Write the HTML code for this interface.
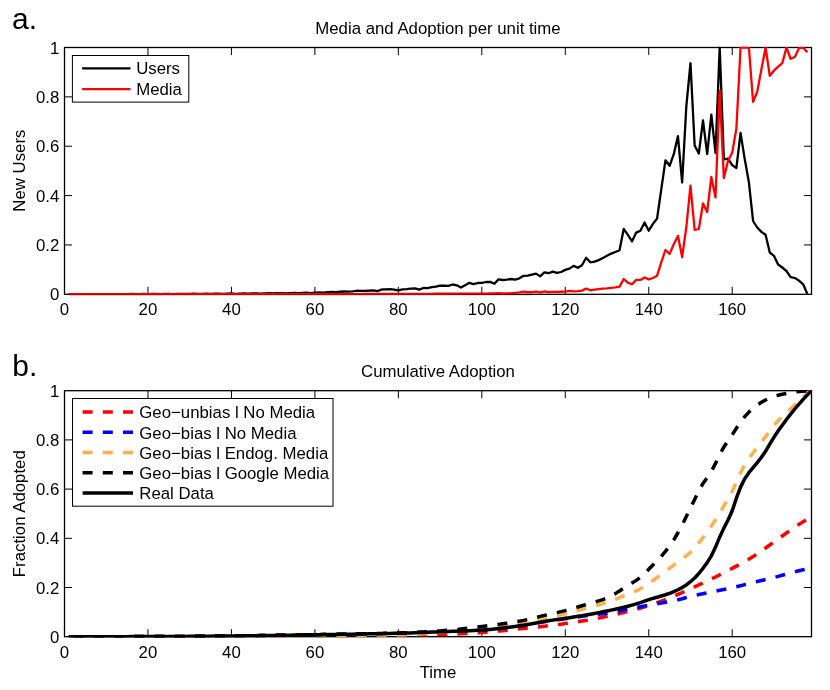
<!DOCTYPE html>
<html><head><meta charset="utf-8"><title>Media and Adoption</title>
<style>html,body{margin:0;padding:0;background:#fff}svg{display:block;will-change:transform}text{font-family:"Liberation Sans",sans-serif;font-size:16.8px;fill:#000}</style></head>
<body>
<svg width="830" height="690" viewBox="0 0 830 690">
<rect width="830" height="690" fill="#fff"/>
<defs><clipPath id="c1"><rect x="64.5" y="46.8" width="747.7" height="248.4"/></clipPath><clipPath id="c2"><rect x="64.5" y="390.0" width="747.7" height="247.60000000000005"/></clipPath></defs>
<text x="12" y="29" style="font-size:30px">a.</text>
<text x="438" y="34" text-anchor="middle">Media and Adoption per unit time</text>
<text transform="translate(25.2,170.6) rotate(-90)" text-anchor="middle">New Users</text>
<rect x="64.5" y="47.5" width="747.0" height="246.8" fill="none" stroke="#000" stroke-width="1.3"/>
<text x="64.50" y="315.20" text-anchor="middle">0</text>
<path d="M147.96,294.3v-7.5M147.96,47.5v7.5" stroke="#000" stroke-width="1"/>
<text x="147.96" y="315.20" text-anchor="middle">20</text>
<path d="M231.43,294.3v-7.5M231.43,47.5v7.5" stroke="#000" stroke-width="1"/>
<text x="231.43" y="315.20" text-anchor="middle">40</text>
<path d="M314.89,294.3v-7.5M314.89,47.5v7.5" stroke="#000" stroke-width="1"/>
<text x="314.89" y="315.20" text-anchor="middle">60</text>
<path d="M398.35,294.3v-7.5M398.35,47.5v7.5" stroke="#000" stroke-width="1"/>
<text x="398.35" y="315.20" text-anchor="middle">80</text>
<path d="M481.82,294.3v-7.5M481.82,47.5v7.5" stroke="#000" stroke-width="1"/>
<text x="481.82" y="315.20" text-anchor="middle">100</text>
<path d="M565.28,294.3v-7.5M565.28,47.5v7.5" stroke="#000" stroke-width="1"/>
<text x="565.28" y="315.20" text-anchor="middle">120</text>
<path d="M648.75,294.3v-7.5M648.75,47.5v7.5" stroke="#000" stroke-width="1"/>
<text x="648.75" y="315.20" text-anchor="middle">140</text>
<path d="M732.21,294.3v-7.5M732.21,47.5v7.5" stroke="#000" stroke-width="1"/>
<text x="732.21" y="315.20" text-anchor="middle">160</text>
<text x="59.3" y="300.30" text-anchor="end">0</text>
<path d="M64.5,244.94h7.5M811.5,244.94h-7.5" stroke="#000" stroke-width="1"/>
<text x="59.3" y="250.94" text-anchor="end">0.2</text>
<path d="M64.5,195.58h7.5M811.5,195.58h-7.5" stroke="#000" stroke-width="1"/>
<text x="59.3" y="201.58" text-anchor="end">0.4</text>
<path d="M64.5,146.22h7.5M811.5,146.22h-7.5" stroke="#000" stroke-width="1"/>
<text x="59.3" y="152.22" text-anchor="end">0.6</text>
<path d="M64.5,96.86h7.5M811.5,96.86h-7.5" stroke="#000" stroke-width="1"/>
<text x="59.3" y="102.86" text-anchor="end">0.8</text>
<text x="59.3" y="53.50" text-anchor="end">1</text>
<g clip-path="url(#c1)" fill="none" stroke-linejoin="round" stroke-linecap="butt">
<polyline points="68.67,294.17 72.85,294.17 77.02,294.16 81.19,294.14 85.37,294.17 89.54,294.14 93.71,294.11 97.89,294.16 102.06,294.12 106.23,294.08 110.41,294.15 114.58,294.09 118.75,294.04 122.92,294.13 127.10,294.06 131.27,294.00 135.44,294.12 139.62,294.03 143.79,293.96 147.96,294.10 152.14,293.99 156.31,293.91 160.48,294.07 164.66,293.95 168.83,293.86 173.00,294.04 177.18,293.90 181.35,293.80 185.52,294.00 189.70,293.84 193.87,293.74 198.04,293.96 202.22,293.78 206.39,293.67 210.56,293.91 214.73,293.71 218.91,293.60 223.08,293.85 227.25,293.63 231.43,293.51 235.60,293.79 239.77,293.54 243.95,293.41 248.12,293.71 252.29,293.44 256.47,293.31 260.64,293.62 264.81,293.32 268.99,293.18 273.16,293.51 277.33,293.19 281.51,293.05 285.68,293.38 289.85,293.04 294.03,292.91 298.20,293.22 302.37,292.88 306.54,292.75 310.72,293.05 314.89,292.70 319.06,292.47 323.24,292.67 327.41,292.22 331.58,291.99 335.76,292.19 339.93,291.74 344.10,291.52 348.28,291.72 352.45,291.39 356.62,290.77 360.80,290.92 364.97,290.92 369.14,290.61 373.32,290.30 377.49,291.08 381.66,289.51 385.84,289.36 390.01,289.20 394.18,289.67 398.35,290.45 402.53,289.36 406.70,289.04 410.87,288.57 415.05,288.42 419.22,289.67 423.39,287.95 427.57,288.10 431.74,287.17 435.91,286.70 440.09,285.60 444.26,285.76 448.43,285.91 452.61,284.50 456.78,285.29 460.95,287.48 465.13,285.13 469.30,282.78 473.47,284.06 477.65,283.00 481.82,282.90 485.99,282.00 490.16,281.90 494.34,283.80 498.51,279.40 502.68,280.00 506.86,279.70 511.03,279.00 515.20,279.60 519.38,278.30 523.55,275.80 527.72,275.70 531.90,274.60 536.07,273.60 540.24,276.40 544.42,272.30 548.59,273.20 552.76,271.60 556.94,272.90 561.11,272.00 565.28,269.90 569.46,268.60 573.63,265.90 577.80,267.80 581.97,265.20 586.15,257.70 590.32,262.30 594.49,261.60 598.67,260.10 602.84,258.00 607.01,255.80 611.19,253.60 615.36,252.00 619.53,250.30 623.71,229.00 627.88,234.80 632.05,241.30 636.23,232.60 640.40,230.70 644.57,222.50 648.75,230.70 652.92,223.90 657.09,218.50 661.27,189.30 665.44,160.30 669.61,165.80 673.78,154.20 677.96,136.10 682.13,182.50 686.30,106.70 690.48,63.20 694.65,145.50 698.82,153.50 703.00,120.40 707.17,154.20 711.34,114.60 715.52,152.80 719.69,47.20 723.86,159.30 728.04,158.60 732.21,165.10 736.38,168.00 740.56,132.90 744.73,159.10 748.90,182.30 753.08,221.00 757.25,227.50 761.42,231.90 765.59,234.80 769.77,252.50 773.94,255.80 778.11,264.50 782.29,267.50 786.46,271.00 790.63,277.10 794.81,278.00 798.98,280.60 803.15,284.30 807.33,293.90" stroke="#000" stroke-width="2.3"/>
<polyline points="68.67,294.20 72.85,294.20 77.02,294.20 81.19,294.20 85.37,294.20 89.54,294.20 93.71,294.20 97.89,294.20 102.06,294.20 106.23,294.20 110.41,294.20 114.58,294.20 118.75,294.20 122.92,294.20 127.10,294.20 131.27,294.20 135.44,294.20 139.62,294.20 143.79,294.20 147.96,294.20 152.14,294.20 156.31,294.20 160.48,294.20 164.66,294.20 168.83,294.20 173.00,294.20 177.18,294.20 181.35,294.20 185.52,294.20 189.70,294.20 193.87,294.20 198.04,294.20 202.22,294.20 206.39,294.20 210.56,294.20 214.73,294.20 218.91,294.20 223.08,294.20 227.25,294.20 231.43,294.20 235.60,294.20 239.77,294.20 243.95,294.20 248.12,294.20 252.29,294.20 256.47,294.20 260.64,294.20 264.81,294.20 268.99,294.20 273.16,294.20 277.33,294.20 281.51,294.20 285.68,294.20 289.85,294.20 294.03,294.20 298.20,294.20 302.37,294.20 306.54,294.20 310.72,294.20 314.89,294.20 319.06,294.19 323.24,294.17 327.41,294.15 331.58,294.14 335.76,294.12 339.93,294.11 344.10,294.09 348.28,294.08 352.45,294.06 356.62,294.05 360.80,294.03 364.97,294.02 369.14,294.00 373.32,293.99 377.49,293.97 381.66,293.96 385.84,293.94 390.01,293.93 394.18,293.91 398.35,293.90 402.53,293.88 406.70,293.87 410.87,293.85 415.05,293.84 419.22,293.82 423.39,293.81 427.57,293.80 431.74,293.78 435.91,293.76 440.09,293.75 444.26,293.74 448.43,293.72 452.61,293.70 456.78,293.69 460.95,293.68 465.13,293.66 469.30,293.64 473.47,293.63 477.65,293.62 481.82,293.62 485.99,293.62 490.16,293.48 494.34,293.48 498.51,293.04 502.68,293.48 506.86,293.33 511.03,293.19 515.20,292.90 519.38,292.46 523.55,291.74 527.72,292.17 531.90,292.17 536.07,291.59 540.24,292.46 544.42,291.30 548.59,292.03 552.76,291.88 556.94,291.88 561.11,291.74 565.28,291.59 569.46,290.87 573.63,291.45 577.80,291.16 581.97,290.60 586.15,288.60 590.32,290.30 594.49,289.70 598.67,289.10 602.84,288.70 607.01,288.30 611.19,287.80 615.36,287.40 619.53,286.70 623.71,279.00 627.88,282.60 632.05,284.30 636.23,279.90 640.40,279.90 644.57,277.50 648.75,279.40 652.92,278.00 657.09,275.70 661.27,262.30 665.44,250.00 669.61,253.90 673.78,244.20 677.96,235.90 682.13,257.00 686.30,227.50 690.48,185.70 694.65,230.00 698.82,229.00 703.00,203.50 707.17,212.00 711.34,177.00 715.52,197.40 719.69,90.70 723.86,178.10 728.04,160.70 732.21,152.80 736.38,128.60 740.56,47.50 744.73,47.50 748.90,47.50 753.08,101.90 757.25,91.70 761.42,69.30 765.59,47.50 769.77,75.80 773.94,70.70 778.11,66.70 782.29,63.20 786.46,47.50 790.63,58.80 794.81,57.00 798.98,48.20 803.15,47.50 807.33,52.20" stroke="#f00" stroke-width="2.3"/>
</g>
<path d="M68.67,294.65000000000003H531.90" stroke="#000" stroke-width="1.6" opacity="0.22"/>
<rect x="72.4" y="55.5" width="116.4" height="46.6" fill="#fff" stroke="#000" stroke-width="1"/>
<path d="M82.1,68.4h48.4" stroke="#000" stroke-width="2.2"/><path d="M82.1,89.2h48.4" stroke="#f00" stroke-width="2.2"/>
<text x="136.2" y="74">Users</text><text x="136.2" y="95">Media</text>
<text x="12.3" y="375.6" style="font-size:30px">b.</text>
<text x="438" y="377" text-anchor="middle">Cumulative Adoption</text>
<text transform="translate(25.2,513.7) rotate(-90)" text-anchor="middle">Fraction Adopted</text>
<text x="438" y="677.6" text-anchor="middle">Time</text>
<rect x="64.5" y="390.7" width="747.0" height="246.00000000000006" fill="none" stroke="#000" stroke-width="1.3"/>
<text x="64.50" y="657.60" text-anchor="middle">0</text>
<path d="M147.96,636.7v-7.5M147.96,390.7v7.5" stroke="#000" stroke-width="1"/>
<text x="147.96" y="657.60" text-anchor="middle">20</text>
<path d="M231.43,636.7v-7.5M231.43,390.7v7.5" stroke="#000" stroke-width="1"/>
<text x="231.43" y="657.60" text-anchor="middle">40</text>
<path d="M314.89,636.7v-7.5M314.89,390.7v7.5" stroke="#000" stroke-width="1"/>
<text x="314.89" y="657.60" text-anchor="middle">60</text>
<path d="M398.35,636.7v-7.5M398.35,390.7v7.5" stroke="#000" stroke-width="1"/>
<text x="398.35" y="657.60" text-anchor="middle">80</text>
<path d="M481.82,636.7v-7.5M481.82,390.7v7.5" stroke="#000" stroke-width="1"/>
<text x="481.82" y="657.60" text-anchor="middle">100</text>
<path d="M565.28,636.7v-7.5M565.28,390.7v7.5" stroke="#000" stroke-width="1"/>
<text x="565.28" y="657.60" text-anchor="middle">120</text>
<path d="M648.75,636.7v-7.5M648.75,390.7v7.5" stroke="#000" stroke-width="1"/>
<text x="648.75" y="657.60" text-anchor="middle">140</text>
<path d="M732.21,636.7v-7.5M732.21,390.7v7.5" stroke="#000" stroke-width="1"/>
<text x="732.21" y="657.60" text-anchor="middle">160</text>
<text x="59.3" y="642.70" text-anchor="end">0</text>
<path d="M64.5,587.50h7.5M811.5,587.50h-7.5" stroke="#000" stroke-width="1"/>
<text x="59.3" y="593.50" text-anchor="end">0.2</text>
<path d="M64.5,538.30h7.5M811.5,538.30h-7.5" stroke="#000" stroke-width="1"/>
<text x="59.3" y="544.30" text-anchor="end">0.4</text>
<path d="M64.5,489.10h7.5M811.5,489.10h-7.5" stroke="#000" stroke-width="1"/>
<text x="59.3" y="495.10" text-anchor="end">0.6</text>
<path d="M64.5,439.90h7.5M811.5,439.90h-7.5" stroke="#000" stroke-width="1"/>
<text x="59.3" y="445.90" text-anchor="end">0.8</text>
<text x="59.3" y="396.70" text-anchor="end">1</text>
<g clip-path="url(#c2)" fill="none" stroke-linejoin="round">
<polyline points="68.67,636.70 72.85,636.70 77.02,636.70 81.19,636.70 85.37,636.70 89.54,636.69 93.71,636.69 97.89,636.69 102.06,636.68 106.23,636.68 110.41,636.68 114.58,636.67 118.75,636.67 122.92,636.66 127.10,636.66 131.27,636.65 135.44,636.64 139.62,636.64 143.79,636.63 147.96,636.63 152.14,636.62 156.31,636.61 160.48,636.60 164.66,636.59 168.83,636.58 173.00,636.57 177.18,636.56 181.35,636.54 185.52,636.53 189.70,636.51 193.87,636.50 198.04,636.48 202.22,636.46 206.39,636.45 210.56,636.43 214.73,636.41 218.91,636.39 223.08,636.37 227.25,636.35 231.43,636.33 235.60,636.31 239.77,636.29 243.95,636.26 248.12,636.24 252.29,636.21 256.47,636.18 260.64,636.15 264.81,636.12 268.99,636.09 273.16,636.06 277.33,636.02 281.51,635.99 285.68,635.96 289.85,635.92 294.03,635.89 298.20,635.85 302.37,635.82 306.54,635.78 310.72,635.75 314.89,635.72 319.06,635.68 323.24,635.65 327.41,635.61 331.58,635.58 335.76,635.55 339.93,635.51 344.10,635.48 348.28,635.44 352.45,635.40 356.62,635.37 360.80,635.33 364.97,635.30 369.14,635.26 373.32,635.22 377.49,635.18 381.66,635.14 385.84,635.10 390.01,635.06 394.18,635.02 398.35,634.98 402.53,634.94 406.70,634.90 410.87,634.86 415.05,634.82 419.22,634.78 423.39,634.74 427.57,634.69 431.74,634.63 435.91,634.57 440.09,634.50 444.26,634.41 448.43,634.28 452.61,634.12 456.78,633.94 460.95,633.74 465.13,633.52 469.30,633.28 473.47,633.03 477.65,632.77 481.82,632.50 485.99,632.21 490.16,631.87 494.34,631.49 498.51,631.08 502.68,630.65 506.86,630.20 511.03,629.74 515.20,629.29 519.38,628.84 523.55,628.40 527.72,627.97 531.90,627.55 536.07,627.11 540.24,626.67 544.42,626.20 548.59,625.72 552.76,625.22 556.94,624.70 561.11,624.16 565.28,623.60 569.46,623.01 573.63,622.40 577.80,621.76 581.97,621.10 586.15,620.40 590.32,619.67 594.49,618.91 598.67,618.11 602.84,617.27 607.01,616.40 611.19,615.48 615.36,614.50 619.53,613.49 623.71,612.45 627.88,611.40 632.05,610.35 636.23,609.27 640.40,608.10 644.57,606.84 648.75,605.51 652.92,604.13 657.09,602.68 661.27,601.17 665.44,599.61 669.61,598.00 673.78,596.29 677.96,594.46 682.13,592.56 686.30,590.62 690.48,588.70 694.65,586.80 698.82,584.89 703.00,582.96 707.17,581.00 711.34,579.00 715.52,576.96 719.69,574.88 723.86,572.77 728.04,570.61 732.21,568.40 736.38,566.16 740.56,563.89 744.73,561.56 748.90,559.14 753.08,556.60 757.25,553.88 761.42,550.99 765.59,548.00 769.77,544.98 773.94,542.00 778.11,539.02 782.29,536.01 786.46,533.00 790.63,530.04 794.81,527.20 798.98,524.41 803.15,521.72 807.33,519.30 811.50,517.30" stroke="#f00" stroke-width="3.5" stroke-dasharray="10 10.2" stroke-dashoffset="-5"/>
<polyline points="68.67,636.70 72.85,636.70 77.02,636.70 81.19,636.70 85.37,636.69 89.54,636.69 93.71,636.68 97.89,636.68 102.06,636.67 106.23,636.67 110.41,636.66 114.58,636.65 118.75,636.64 122.92,636.64 127.10,636.63 131.27,636.62 135.44,636.61 139.62,636.60 143.79,636.59 147.96,636.58 152.14,636.56 156.31,636.55 160.48,636.53 164.66,636.51 168.83,636.49 173.00,636.46 177.18,636.44 181.35,636.41 185.52,636.38 189.70,636.35 193.87,636.31 198.04,636.28 202.22,636.24 206.39,636.20 210.56,636.16 214.73,636.12 218.91,636.08 223.08,636.04 227.25,636.00 231.43,635.96 235.60,635.92 239.77,635.87 243.95,635.82 248.12,635.77 252.29,635.72 256.47,635.66 260.64,635.60 264.81,635.54 268.99,635.48 273.16,635.41 277.33,635.35 281.51,635.28 285.68,635.21 289.85,635.14 294.03,635.07 298.20,635.01 302.37,634.94 306.54,634.87 310.72,634.80 314.89,634.73 319.06,634.67 323.24,634.60 327.41,634.54 331.58,634.47 335.76,634.41 339.93,634.34 344.10,634.28 348.28,634.22 352.45,634.15 356.62,634.08 360.80,634.01 364.97,633.94 369.14,633.87 373.32,633.79 377.49,633.71 381.66,633.63 385.84,633.54 390.01,633.45 394.18,633.36 398.35,633.26 402.53,633.15 406.70,633.02 410.87,632.88 415.05,632.73 419.22,632.58 423.39,632.41 427.57,632.25 431.74,632.09 435.91,631.93 440.09,631.78 444.26,631.64 448.43,631.51 452.61,631.39 456.78,631.26 460.95,631.14 465.13,631.00 469.30,630.86 473.47,630.70 477.65,630.51 481.82,630.30 485.99,630.04 490.16,629.70 494.34,629.31 498.51,628.86 502.68,628.36 506.86,627.83 511.03,627.27 515.20,626.69 519.38,626.10 523.55,625.50 527.72,624.84 531.90,624.09 536.07,623.29 540.24,622.51 544.42,621.80 548.59,621.16 552.76,620.55 556.94,619.97 561.11,619.39 565.28,618.80 569.46,618.19 573.63,617.58 577.80,616.97 581.97,616.37 586.15,615.80 590.32,615.27 594.49,614.78 598.67,614.30 602.84,613.78 607.01,613.20 611.19,612.53 615.36,611.77 619.53,610.97 623.71,610.13 627.88,609.30 632.05,608.44 636.23,607.56 640.40,606.70 644.57,605.90 648.75,605.14 652.92,604.42 657.09,603.70 661.27,602.99 665.44,602.25 669.61,601.48 673.78,600.66 677.96,599.77 682.13,598.77 686.30,597.55 690.48,596.40 694.65,595.43 698.82,594.54 703.00,593.69 707.17,592.85 711.34,592.00 715.52,591.15 719.69,590.31 723.86,589.47 728.04,588.61 732.21,587.70 736.38,586.72 740.56,585.68 744.73,584.61 748.90,583.54 753.08,582.50 757.25,581.50 761.42,580.52 765.59,579.54 769.77,578.54 773.94,577.50 778.11,576.40 782.29,575.24 786.46,574.07 790.63,572.91 794.81,571.80 798.98,570.74 803.15,569.71 807.33,568.70 811.50,567.70" stroke="#00f" stroke-width="3.5" stroke-dasharray="10 10.2" stroke-dashoffset="-5"/>
<polyline points="68.67,636.70 72.85,636.70 77.02,636.70 81.19,636.70 85.37,636.70 89.54,636.69 93.71,636.69 97.89,636.69 102.06,636.68 106.23,636.68 110.41,636.68 114.58,636.67 118.75,636.67 122.92,636.66 127.10,636.66 131.27,636.65 135.44,636.64 139.62,636.64 143.79,636.63 147.96,636.63 152.14,636.62 156.31,636.61 160.48,636.60 164.66,636.59 168.83,636.58 173.00,636.57 177.18,636.56 181.35,636.55 185.52,636.53 189.70,636.52 193.87,636.50 198.04,636.48 202.22,636.47 206.39,636.45 210.56,636.43 214.73,636.41 218.91,636.39 223.08,636.37 227.25,636.35 231.43,636.33 235.60,636.31 239.77,636.28 243.95,636.26 248.12,636.23 252.29,636.19 256.47,636.16 260.64,636.12 264.81,636.08 268.99,636.05 273.16,636.01 277.33,635.97 281.51,635.92 285.68,635.88 289.85,635.84 294.03,635.80 298.20,635.76 302.37,635.71 306.54,635.67 310.72,635.63 314.89,635.59 319.06,635.56 323.24,635.52 327.41,635.49 331.58,635.45 335.76,635.42 339.93,635.39 344.10,635.36 348.28,635.33 352.45,635.30 356.62,635.26 360.80,635.23 364.97,635.19 369.14,635.15 373.32,635.11 377.49,635.07 381.66,635.02 385.84,634.97 390.01,634.91 394.18,634.85 398.35,634.78 402.53,634.70 406.70,634.59 410.87,634.46 415.05,634.30 419.22,634.12 423.39,633.85 427.57,633.49 431.74,633.07 435.91,632.65 440.09,632.27 444.26,631.96 448.43,631.67 452.61,631.40 456.78,631.14 460.95,630.89 465.13,630.62 469.30,630.34 473.47,630.04 477.65,629.70 481.82,629.32 485.99,628.88 490.16,628.38 494.34,627.82 498.51,627.22 502.68,626.57 506.86,625.88 511.03,625.17 515.20,624.43 519.38,623.67 523.55,622.90 527.72,622.07 531.90,621.16 536.07,620.20 540.24,619.23 544.42,618.30 548.59,617.43 552.76,616.58 556.94,615.74 561.11,614.85 565.28,613.90 569.46,612.84 573.63,611.69 577.80,610.50 581.97,609.29 586.15,608.10 590.32,606.97 594.49,605.87 598.67,604.76 602.84,603.58 607.01,602.30 611.19,600.87 615.36,599.30 619.53,597.64 623.71,595.92 627.88,594.20 632.05,592.53 636.23,590.79 640.40,588.80 644.57,586.26 648.75,583.40 652.92,580.49 657.09,577.46 661.27,574.37 665.44,571.23 669.61,568.10 673.78,565.08 677.96,562.15 682.13,559.15 686.30,555.88 690.48,552.20 694.65,547.91 698.82,543.02 703.00,537.67 707.17,531.98 711.34,526.10 715.52,519.76 719.69,512.90 723.86,505.90 728.04,498.80 732.21,491.24 736.38,482.52 740.56,472.73 744.73,464.92 748.90,458.59 753.08,452.80 757.25,447.36 761.42,442.17 765.59,436.67 769.77,430.82 773.94,425.40 778.11,420.77 782.29,416.54 786.46,412.52 790.63,408.74 794.81,405.00 798.98,401.02 803.15,397.04 807.33,393.50 811.50,390.70" stroke="#ffb04d" stroke-width="3.5" stroke-dasharray="10 10.2" stroke-dashoffset="-5"/>
<polyline points="68.67,636.70 72.85,636.70 77.02,636.70 81.19,636.70 85.37,636.69 89.54,636.69 93.71,636.68 97.89,636.68 102.06,636.67 106.23,636.67 110.41,636.66 114.58,636.65 118.75,636.64 122.92,636.64 127.10,636.63 131.27,636.62 135.44,636.61 139.62,636.60 143.79,636.59 147.96,636.58 152.14,636.56 156.31,636.55 160.48,636.53 164.66,636.51 168.83,636.49 173.00,636.46 177.18,636.44 181.35,636.41 185.52,636.38 189.70,636.35 193.87,636.31 198.04,636.28 202.22,636.24 206.39,636.20 210.56,636.16 214.73,636.12 218.91,636.08 223.08,636.04 227.25,636.00 231.43,635.96 235.60,635.92 239.77,635.87 243.95,635.83 248.12,635.78 252.29,635.72 256.47,635.67 260.64,635.61 264.81,635.55 268.99,635.49 273.16,635.42 277.33,635.36 281.51,635.29 285.68,635.23 289.85,635.16 294.03,635.09 298.20,635.02 302.37,634.95 306.54,634.88 310.72,634.80 314.89,634.73 319.06,634.66 323.24,634.59 327.41,634.52 331.58,634.45 335.76,634.38 339.93,634.31 344.10,634.24 348.28,634.17 352.45,634.09 356.62,634.01 360.80,633.93 364.97,633.85 369.14,633.76 373.32,633.67 377.49,633.57 381.66,633.47 385.84,633.37 390.01,633.25 394.18,633.13 398.35,633.01 402.53,632.87 406.70,632.72 410.87,632.55 415.05,632.36 419.22,632.15 423.39,631.93 427.57,631.69 431.74,631.44 435.91,631.18 440.09,630.90 444.26,630.59 448.43,630.24 452.61,629.85 456.78,629.43 460.95,628.98 465.13,628.51 469.30,628.02 473.47,627.52 477.65,627.01 481.82,626.50 485.99,625.99 490.16,625.46 494.34,624.92 498.51,624.36 502.68,623.78 506.86,623.18 511.03,622.54 515.20,621.87 519.38,621.16 523.55,620.40 527.72,619.54 531.90,618.55 536.07,617.49 540.24,616.42 544.42,615.40 548.59,614.45 552.76,613.52 556.94,612.59 561.11,611.63 565.28,610.60 569.46,609.48 573.63,608.28 577.80,607.04 581.97,605.77 586.15,604.50 590.32,603.29 594.49,602.13 598.67,600.92 602.84,599.57 607.01,598.00 611.19,596.02 615.36,593.62 619.53,590.95 623.71,588.19 627.88,585.50 632.05,582.97 636.23,580.38 640.40,577.40 644.57,573.60 648.75,569.30 652.92,565.05 657.09,560.76 661.27,556.28 665.44,551.44 669.61,546.10 673.78,539.86 677.96,532.74 682.13,525.07 686.30,516.57 690.48,508.00 694.65,499.44 698.82,490.95 703.00,483.40 707.17,477.53 711.34,471.60 715.52,463.42 719.69,454.45 723.86,447.06 728.04,440.85 732.21,434.80 736.38,428.29 740.56,421.97 744.73,416.68 748.90,412.08 753.08,408.20 757.25,405.00 761.42,402.29 765.59,399.99 769.77,397.99 773.94,396.40 778.11,395.21 782.29,394.24 786.46,393.38 790.63,392.60 794.81,392.00 798.98,391.55 803.15,391.16 807.33,390.86 811.50,390.70" stroke="#000" stroke-width="3.5" stroke-dasharray="10 10.2" stroke-dashoffset="-5"/>
<polyline points="68.67,636.70 72.85,636.70 77.02,636.70 81.19,636.70 85.37,636.69 89.54,636.69 93.71,636.68 97.89,636.68 102.06,636.67 106.23,636.67 110.41,636.66 114.58,636.65 118.75,636.64 122.92,636.64 127.10,636.63 131.27,636.62 135.44,636.61 139.62,636.60 143.79,636.59 147.96,636.58 152.14,636.56 156.31,636.55 160.48,636.53 164.66,636.51 168.83,636.49 173.00,636.46 177.18,636.44 181.35,636.41 185.52,636.38 189.70,636.35 193.87,636.31 198.04,636.28 202.22,636.24 206.39,636.20 210.56,636.16 214.73,636.12 218.91,636.08 223.08,636.04 227.25,636.00 231.43,635.96 235.60,635.92 239.77,635.87 243.95,635.82 248.12,635.77 252.29,635.72 256.47,635.66 260.64,635.60 264.81,635.54 268.99,635.48 273.16,635.41 277.33,635.35 281.51,635.28 285.68,635.21 289.85,635.14 294.03,635.07 298.20,635.01 302.37,634.94 306.54,634.87 310.72,634.80 314.89,634.73 319.06,634.67 323.24,634.60 327.41,634.54 331.58,634.47 335.76,634.41 339.93,634.34 344.10,634.28 348.28,634.22 352.45,634.15 356.62,634.08 360.80,634.01 364.97,633.94 369.14,633.87 373.32,633.79 377.49,633.71 381.66,633.63 385.84,633.54 390.01,633.45 394.18,633.36 398.35,633.26 402.53,633.15 406.70,633.02 410.87,632.89 415.05,632.74 419.22,632.59 423.39,632.43 427.57,632.27 431.74,632.10 435.91,631.94 440.09,631.78 444.26,631.63 448.43,631.48 452.61,631.34 456.78,631.20 460.95,631.06 465.13,630.90 469.30,630.73 473.47,630.54 477.65,630.34 481.82,630.10 485.99,629.82 490.16,629.47 494.34,629.06 498.51,628.60 502.68,628.10 506.86,627.56 511.03,627.00 515.20,626.41 519.38,625.81 523.55,625.20 527.72,624.52 531.90,623.75 536.07,622.94 540.24,622.13 544.42,621.40 548.59,620.74 552.76,620.13 556.94,619.53 561.11,618.93 565.28,618.30 569.46,617.65 573.63,616.98 577.80,616.31 581.97,615.61 586.15,614.90 590.32,614.17 594.49,613.42 598.67,612.64 602.84,611.84 607.01,611.00 611.19,610.12 615.36,609.21 619.53,608.25 623.71,607.25 627.88,606.20 632.05,605.08 636.23,603.88 640.40,602.60 644.57,601.16 648.75,599.70 652.92,598.41 657.09,597.21 661.27,596.02 665.44,594.75 669.61,593.30 673.78,591.65 677.96,589.76 682.13,587.58 686.30,584.95 690.48,581.73 694.65,578.00 698.82,573.52 703.00,568.32 707.17,562.61 711.34,555.90 715.52,547.09 719.69,537.13 723.86,528.11 728.04,520.03 732.21,510.80 736.38,498.20 740.56,487.13 744.73,478.72 748.90,472.72 753.08,467.70 757.25,462.56 761.42,457.28 765.59,451.22 769.77,444.18 773.94,437.30 778.11,431.07 782.29,425.15 786.46,419.51 790.63,414.13 794.81,409.00 798.98,404.10 803.15,399.40 807.33,394.90 811.50,390.70" stroke="#000" stroke-width="3.5"/>
</g>
<rect x="72.5" y="398.5" width="260.5" height="107.7" fill="#fff" stroke="#000" stroke-width="1"/>
<path d="M82.6,411.9h50.4" stroke="#f00" stroke-width="3.5" fill="none" stroke-dasharray="10 10.2"/><text x="139.3" y="418.2">Geo−unbias l No Media</text>
<path d="M82.6,432.2h50.4" stroke="#00f" stroke-width="3.5" fill="none" stroke-dasharray="10 10.2"/><text x="139.3" y="438.5">Geo−bias l No Media</text>
<path d="M82.6,452.5h50.4" stroke="#ffb04d" stroke-width="3.5" fill="none" stroke-dasharray="10 10.2"/><text x="139.3" y="458.8">Geo−bias l Endog. Media</text>
<path d="M82.6,472.8h50.4" stroke="#000" stroke-width="3.5" fill="none" stroke-dasharray="10 10.2"/><text x="139.3" y="479.1">Geo−bias l Google Media</text>
<path d="M82.6,493.0h50.4" stroke="#000" stroke-width="3.5" fill="none" /><text x="139.3" y="499.3">Real Data</text>
</svg>
</body></html>
